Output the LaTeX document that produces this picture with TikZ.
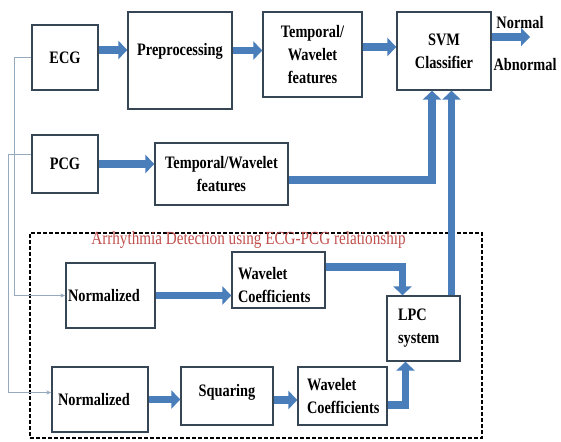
\documentclass[tikz,border=0pt]{standalone}
\usepackage{fontspec}
\setmainfont{Liberation Serif}
\newfontfamily\tallfont[FakeStretch=0.82]{Liberation Serif}
\usetikzlibrary{arrows.meta}
\definecolor{flowblue}{RGB}{74,126,187}
\definecolor{boxline}{RGB}{55,70,85}
\definecolor{feedgray}{RGB}{150,170,190}
\definecolor{titlered}{RGB}{192,80,77}

\begin{document}
\begin{tikzpicture}[x=1pt, y=-1pt,
  blk/.style={draw=boxline, line width=1.3pt, fill=white, inner sep=2pt,
    font=\tallfont\bfseries\fontsize{17.5}{23}\selectfont},
  lblk/.style={blk, align=left},
  flow/.style={draw=flowblue, line width=7.5pt, -{Triangle[length=9pt,width=18pt]}},
  feed/.style={draw=feedgray, line width=0.9pt, -{Stealth[length=5pt,width=4pt]}},
  grp/.style={draw=black, line width=1.2pt, dash pattern=on 4pt off 2pt},
  tag/.style={font=\tallfont\bfseries\fontsize{17.5}{23}\selectfont}]
  \useasboundingbox (0,0) rectangle (561,441);
  % feature path
  \node[blk, minimum width=66, minimum height=65] (ecg) at (65,57.5) {ECG};
  \node[blk, minimum width=104, minimum height=97, text depth=22pt] (prep) at (180,60.5) {Preprocessing};
  \node[blk, align=center, minimum width=99, minimum height=85] (tfeat) at (312.5,54.5) {Temporal/\\Wavelet\\features};
  \node[blk, align=center, minimum width=94, minimum height=78] (svm) at (444,51) {SVM\\Classifier};
  \node[tag] (normal) at (520,23) {Normal};
  \node[tag] (abnormal) at (525,65) {Abnormal};
  \coordinate (out) at (530,37);
  \node[blk, minimum width=66, minimum height=58] (pcg) at (65,164) {PCG};
  \node[blk, align=center, minimum width=133, minimum height=62] (tw) at (221.5,174) {Temporal/Wavelet\\features};
  % ECG-PCG relationship
  \node[grp, minimum width=452, minimum height=205] (zone) at (256,335.5) {};
  \node[font=\tallfont\fontsize{18.5}{20}\selectfont, text=titlered] (ttl) at (248.5,240) {Arrhythmia Detection using ECG-PCG relationship};
  \node[lblk, inner xsep=2pt, text width=85, minimum height=65] (normA) at (110.5,295.5) {Normalized};
  \node[lblk, inner xsep=6pt, text width=81, minimum height=56, text height=22pt] (wcA) at (278.5,280) {Wavelet\\Coefficients};
  \node[lblk, inner xsep=11pt, text width=51, minimum height=65] (lpc) at (423.5,328.5) {LPC\\system};
  \node[lblk, inner xsep=6pt, text width=84, minimum height=65] (normB) at (100,399.5) {Normalized};
  \node[blk, minimum width=92, minimum height=58, text depth=11pt] (sq) at (227,396) {Squaring};
  \node[lblk, inner xsep=9pt, text width=71, minimum height=58] (wcB) at (342.5,396) {Wavelet\\Coefficients};
  % thick arrows
  \draw[flow] ([yshift=7.5pt]ecg.east) -- ([yshift=7.5pt]ecg.east -| prep.west);
  \draw[flow] ([yshift=10pt]prep.east) -- ([yshift=10pt]prep.east -| tfeat.west);
  \draw[flow] ([yshift=7.5pt]tfeat.east) -- ([yshift=7.5pt]tfeat.east -| svm.west);
  \draw[flow] ([yshift=14pt]svm.east) -- (out);
  \draw[flow] (pcg.east) -- (pcg.east -| tw.west);
  \draw[flow] ([yshift=-6pt]tw.east) -| ([xshift=-12pt]svm.south);
  \draw[flow] ([xshift=28pt]lpc.north) -- ([xshift=28pt]lpc.north |- svm.south);
  \draw[flow] (normA.east) -- (normA.east -| wcA.west);
  \draw[flow] ([yshift=13pt]wcA.east) -| ([xshift=-21pt]lpc.north);
  \draw[flow] (normB.east) -- (normB.east -| sq.west);
  \draw[flow] ([yshift=-4pt]sq.east) -- ([yshift=-4pt]sq.east -| wcB.west);
  \draw[flow] ([yshift=-9pt]wcB.east) -| ([xshift=-18pt]lpc.south);
  % thin feeds
  \draw[feed] (ecg.west) -- ++(-17,0) |- (normA.west);
  \draw[feed] ([yshift=10pt]pcg.west) -- ++(-23,0) |- ([yshift=7pt]normB.west);
\end{tikzpicture}
\end{document}
